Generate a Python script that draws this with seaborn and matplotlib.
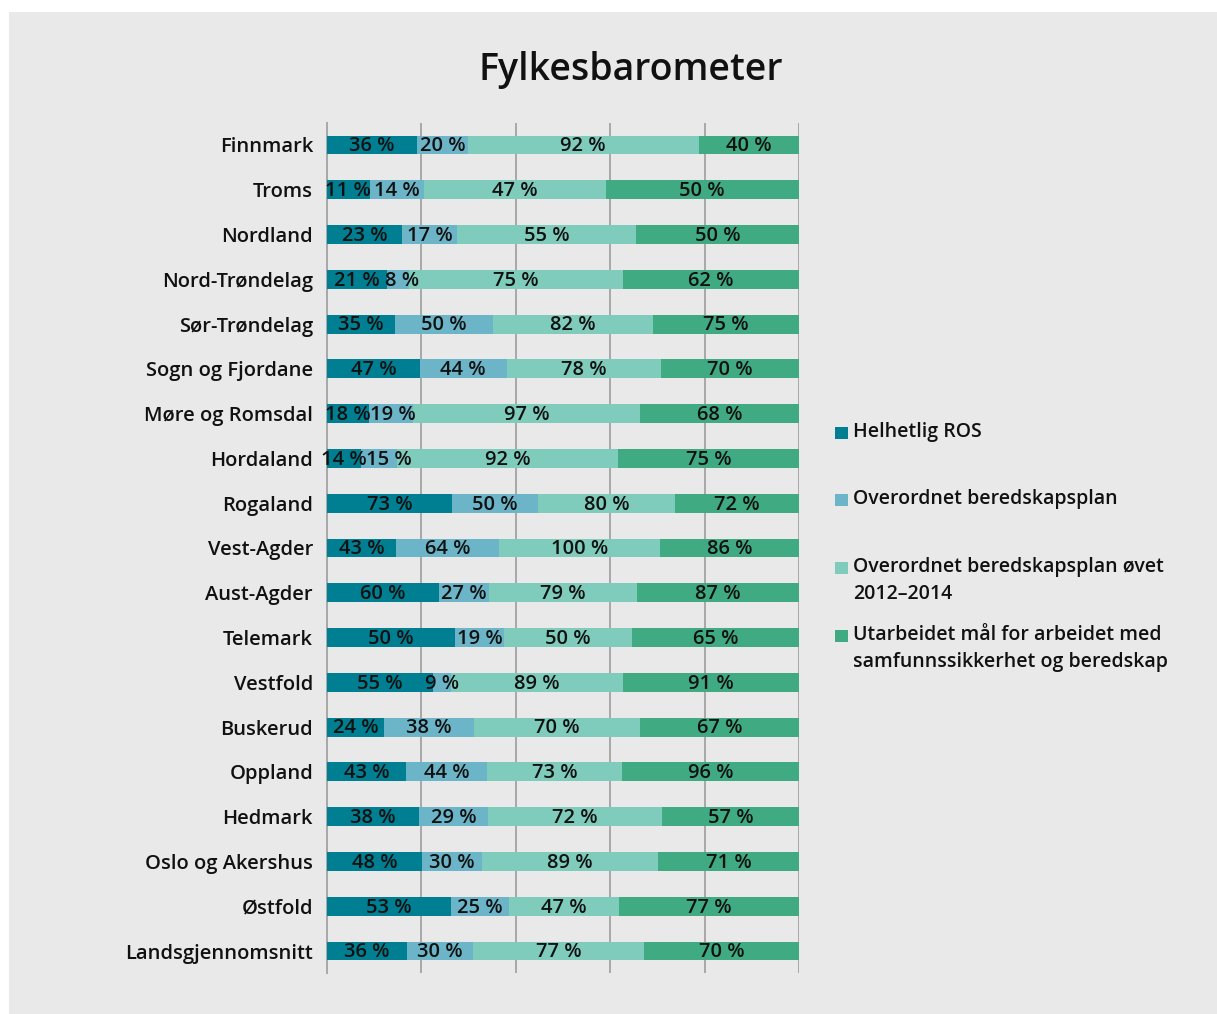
import numpy as np
import pandas as pd
import seaborn as sns
import matplotlib.pyplot as plt
from matplotlib.patches import Rectangle

# Data
fylker = ['Finnmark', 'Troms', 'Nordland', 'Nord-Trøndelag', 'Sør-Trøndelag',
          'Sogn og Fjordane', 'Møre og Romsdal', 'Hordaland', 'Rogaland',
          'Vest-Agder', 'Aust-Agder', 'Telemark', 'Vestfold', 'Buskerud',
          'Oppland', 'Hedmark', 'Oslo og Akershus', 'Østfold', 'Landsgjennomsnitt']
helhetlig_ros = [36, 11, 23, 21, 35, 47, 18, 14, 73, 43, 60, 50, 55, 24, 43, 38, 48, 53, 36]
beredskapsplan = [20, 14, 17, 8, 50, 44, 19, 15, 50, 64, 27, 19, 9, 38, 44, 29, 30, 25, 30]
plan_ovet = [92, 47, 55, 75, 82, 78, 97, 92, 80, 100, 79, 50, 89, 70, 73, 72, 89, 47, 77]
maal = [40, 50, 50, 62, 75, 70, 68, 75, 72, 86, 87, 65, 91, 67, 96, 57, 71, 77, 70]

series = ['Helhetlig ROS', 'Overordnet beredskapsplan',
          'Overordnet beredskapsplan øvet\n2012–2014',
          'Utarbeidet mål for arbeidet med\nsamfunnssikkerhet og beredskap']
colors = ['#007f92', '#6cb5c8', '#7fcbbc', '#40ab82']

df = pd.DataFrame({'fylke': fylker, 's0': helhetlig_ros, 's1': beredskapsplan,
                   's2': plan_ovet, 's3': maal})
cols = ['s0', 's1', 's2', 's3']
share = df[cols].div(df[cols].sum(axis=1), axis=0) * 100
cum = share.cumsum(axis=1)

bg = '#e9e9e9'
font = ['Open Sans', 'DejaVu Sans']
sns.set_style('white')
plt.rcParams['font.family'] = font

fig = plt.figure(figsize=(12.17, 10.14), dpi=100, facecolor='white')
fig.patches.append(Rectangle((9 / 1217, 0), 1, 1 - 12 / 1014, transform=fig.transFigure,
                             facecolor=bg, edgecolor='none', zorder=-10))
ax = fig.add_axes([327 / 1217, 1 - 973.4 / 1014, 472 / 1217, 850.8 / 1014])
ax.set_facecolor('none')

# stacked bars: draw cumulative shares from longest to shortest
for i in reversed(range(4)):
    sns.barplot(x=cum[cols[i]], y=df['fylke'], color=colors[i], width=0.42,
                saturation=1, orient='h', ax=ax, zorder=3, linewidth=0, edgecolor='none')

# value labels centred in each segment, nudged right if they would collide
min_gap = 9.6
for r in range(len(df)):
    left = 0
    prev = -100
    for i, c in enumerate(cols):
        w = share.loc[r, c]
        xc = max(left + w / 2, prev + min_gap)
        ax.text(xc, r + 0.03, f'{df.loc[r, c]} %', ha='center', va='center',
                fontsize=14.5, fontweight='semibold', color='#111111', zorder=5)
        prev = xc
        left += w

ax.set_xlim(0, 100)
ax.set_ylim(len(df) - 0.5, -0.5)
ax.set_xticks([0, 20, 40, 60, 80, 100])
ax.set_xticklabels([])
ax.tick_params(axis='x', length=0)
ax.grid(axis='x', color='#a8a8a8', lw=1.4, zorder=0)
ax.set_axisbelow(True)
ax.set_xlabel('')
ax.set_ylabel('')
ax.set_yticks(range(len(df)))
ax.set_yticklabels(fylker, fontsize=14.5, fontweight='semibold', color='#111111')
ax.set_yticks(np.arange(-0.5, len(df), 1), minor=True)
ax.tick_params(axis='y', which='major', length=0, pad=10)
ax.tick_params(axis='y', which='minor', length=6, width=1.3, color='#a8a8a8', direction='out')
for s in ['top', 'right', 'bottom']:
    ax.spines[s].set_visible(False)
ax.spines['left'].set_color('#a8a8a8')
ax.spines['left'].set_linewidth(1.4)

fig.text(631 / 1217, 1 - 70 / 1014, 'Fylkesbarometer', ha='center', va='center',
         fontsize=27, fontweight='semibold', color='#111111')

# legend
leg_y = [433, 500, 568, 636]
for name, col, y in zip(series, colors, leg_y):
    fig.patches.append(Rectangle((835 / 1217, 1 - (y + 6) / 1014), 13 / 1217, 12 / 1014,
                                 transform=fig.transFigure, facecolor=col, edgecolor='none'))
    fig.text(853 / 1217, 1 - (y - 11) / 1014, name, ha='left', va='top', fontsize=14,
             fontweight='semibold', color='#111111', linespacing=1.45)

fig.savefig('out.png', dpi=100, facecolor='white')
